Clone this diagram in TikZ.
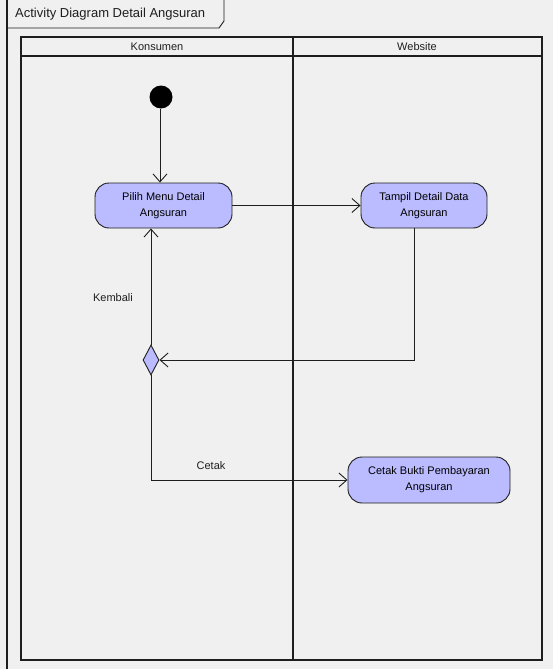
\documentclass[tikz,border=0pt]{standalone}
\usepackage{fontspec}
\setmainfont{Liberation Sans}
\usetikzlibrary{arrows.meta,shapes.geometric}
\definecolor{bg}{RGB}{240,240,240}
\definecolor{act}{RGB}{187,187,255}
\definecolor{ln}{RGB}{30,30,30}
\tikzset{
  lane/.style={draw=ln, line width=2pt},
  actbox/.style={draw=ln, line width=0.9pt, fill=act, rounded corners=14pt, align=center,
     font=\fontsize{11}{16}\selectfont, inner sep=2pt},
  conn/.style={draw=ln, line width=0.9pt, -{Straight Barb[length=8pt,width=14pt,line width=0.9pt]}},
  lbl/.style={font=\fontsize{11}{13}\selectfont, text=ln},
}
\begin{document}
\begin{tikzpicture}[x=1pt,y=-1pt]
\useasboundingbox (0,0) rectangle (553,669);
\fill[bg] (0,0) rectangle (553,669);
% frame
\draw[ln, line width=1.2pt] (7,-2) -- (7,671);
\draw[ln, line width=0.9pt] (7,28) -- (219,28) -- (224,21) -- (224,-2);
\node[anchor=west, font=\fontsize{13}{15}\selectfont, text=ln, inner sep=0] (title) at (15,14) {Activity Diagram Detail Angsuran};
% swimlanes
\draw[lane] (21,37) rectangle (542,660);
\draw[lane] (21,56) -- (542,56);
\draw[lane] (293,37) -- (293,660);
\node[lbl] (k) at (157,47) {Konsumen};
\node[lbl] (w) at (417,47) {Website};
% nodes
\node[circle, fill=black, minimum size=23pt, inner sep=0] (start) at (161,97) {};
\node[actbox, minimum width=137pt, minimum height=45pt] (pilih) at (163.5,205.5) {Pilih Menu Detail\\Angsuran};
\node[actbox, minimum width=126pt, minimum height=45pt] (tampil) at (424,205.5) {Tampil Detail Data\\Angsuran};
\node[diamond, draw=ln, line width=0.9pt, fill=act, minimum width=16pt, minimum height=30pt, inner sep=0, shape aspect=0.5] (dec) at (151,360) {};
\node[actbox, minimum width=162pt, minimum height=46pt] (cetak) at (429,480) {Cetak Bukti Pembayaran\\Angsuran};
% connectors
\draw[conn] (start.south -| 160,0) -- (160,0 |- pilih.north);
\draw[conn] (pilih.east) -- (tampil.west);
\draw[conn] ([xshift=-10pt]tampil.south) |- (dec.east);
\draw[conn] (dec.north) -- (dec.north |- pilih.south);
\draw[conn] (dec.south) |- (cetak.west);
\node[lbl] (kembali) at (113,298) {Kembali};
\node[lbl] (cetaklbl) at (211,466) {Cetak};
\end{tikzpicture}
\end{document}
